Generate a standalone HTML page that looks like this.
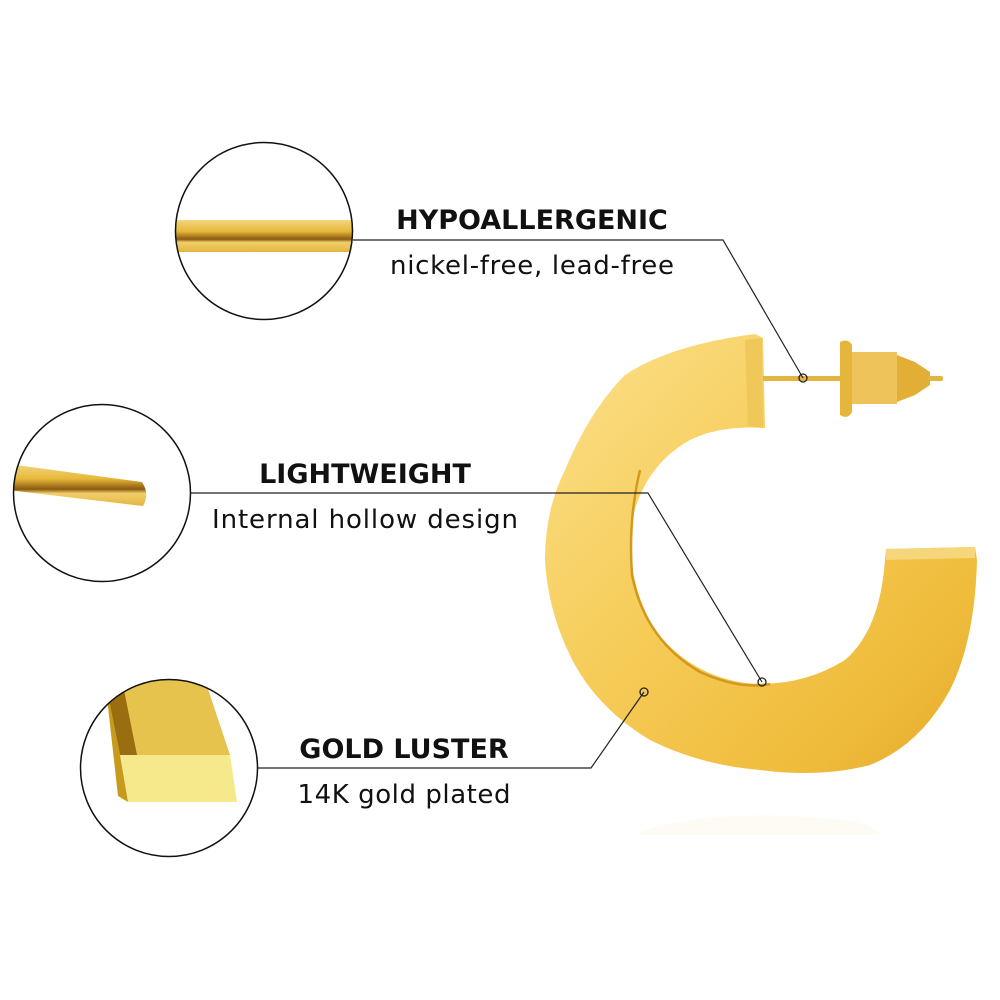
<!DOCTYPE html>
<html><head><meta charset="utf-8"><style>
html,body{margin:0;padding:0;background:#fff;}
svg{display:block}
text{font-family:"DejaVu Sans","Liberation Sans",sans-serif;fill:#111}
</style></head><body>
<svg width="1000" height="1000" viewBox="0 0 1000 1000" xmlns="http://www.w3.org/2000/svg">
<defs>
<linearGradient id="g1" x1="0" y1="0" x2="1" y2="1">
<stop offset="0" stop-color="#fbe08a"/><stop offset="0.45" stop-color="#f6cc58"/><stop offset="0.8" stop-color="#efbb3a"/><stop offset="1" stop-color="#e4a82a"/>
</linearGradient>
<linearGradient id="wire" x1="0" y1="0" x2="0" y2="1">
<stop offset="0" stop-color="#f3d580"/><stop offset="0.35" stop-color="#e7b93a"/><stop offset="0.6" stop-color="#8a5a10"/><stop offset="0.7" stop-color="#f1cf6a"/><stop offset="1" stop-color="#e4b540"/>
</linearGradient>
<clipPath id="c1"><circle cx="264" cy="231" r="88"/></clipPath>
<clipPath id="c2"><circle cx="102" cy="493" r="88"/></clipPath>
<clipPath id="c3"><circle cx="169" cy="768" r="88"/></clipPath>
</defs>

<g clip-path="url(#c1)"><rect x="170" y="220" width="184" height="32" fill="url(#wire)"/></g>
<circle cx="264" cy="231" r="88.5" fill="none" stroke="#111" stroke-width="1.5"/>

<g clip-path="url(#c2)"><path d="M8 464 L142 482 Q150 494 143 506 L8 490 Z" fill="url(#wire)"/></g>
<circle cx="102" cy="493" r="88.5" fill="none" stroke="#111" stroke-width="1.5"/>

<g clip-path="url(#c3)">
<polygon points="105,680 205,680 230,755 120,755" fill="#e6c34c"/>
<polygon points="105,680 122,680 137,755 120,755" fill="#9a6d10"/>
<polygon points="120,755 230,755 237,802 128,802" fill="#f6e98c"/>
<polygon points="105,680 120,755 128,802 118,796" fill="#c69a1a"/>
</g>
<circle cx="169" cy="768" r="88.5" fill="none" stroke="#111" stroke-width="1.5"/>

<path d="M755 334 L763 338 L765 428 Q720 425 690 440 Q645 465 632 520 Q625 580 655 630 Q690 675 745 683 Q800 688 845 660 Q880 630 885 560 L886 549 L975 547 L977 560 Q975 640 950 690 Q920 745 870 765 Q820 778 760 770 Q700 765 650 740 Q600 710 575 665 Q548 615 545 560 Q545 510 565 470 Q590 410 625 375 Q670 345 755 334 Z" fill="url(#g1)"/>
<path d="M640 470 Q628 520 632 575 Q645 640 700 672 Q740 690 770 684" fill="none" stroke="#d4981c" stroke-width="2.5"/>
<path d="M886 549 L975 547 L975 558 L886 560 Z" fill="#f6d67a"/>
<path d="M745 340 L762 338 L763 428 L748 426 Z" fill="#f0c85a"/>
<path d="M640 832 Q720 805 860 822 Q880 830 880 835 L640 835 Z" fill="#fdf8ee" opacity="0.6"/>

<rect x="763" y="376" width="80" height="5" fill="#e2b440"/>
<path d="M840 342 Q848 338 852 345 L852 412 Q848 420 840 415 Z" fill="#e6b53c"/>
<rect x="852" y="352" width="45" height="52" fill="#eec35a"/>
<path d="M897 355 L915 362 L930 372 L930 385 L915 395 L897 402 Z" fill="#e2ae36"/>
<rect x="928" y="376" width="15" height="5" rx="2" fill="#e2b440"/>

<g fill="none" stroke="#222" stroke-width="1.2">
<polyline points="353,240 723,240 803,378"/>
<polyline points="191,493 648,493 762,682"/>
<polyline points="258,768 591,768 644,692"/>
</g>
<g fill="none" stroke="#222" stroke-width="1.3">
<circle cx="803" cy="378" r="4"/>
<circle cx="762" cy="682" r="4"/>
<circle cx="644" cy="692" r="4"/>
</g>

<text x="532" y="229" font-size="27" font-weight="bold" text-anchor="middle">HYPOALLERGENIC</text>
<text x="532" y="274" font-size="26" text-anchor="middle" textLength="284">nickel-free, lead-free</text>
<text x="365" y="483" font-size="27" font-weight="bold" text-anchor="middle">LIGHTWEIGHT</text>
<text x="365" y="528" font-size="26" text-anchor="middle" textLength="306">Internal hollow design</text>
<text x="404" y="758" font-size="27" font-weight="bold" text-anchor="middle">GOLD LUSTER</text>
<text x="404" y="803" font-size="26" text-anchor="middle" textLength="213">14K gold plated</text>
</svg>
</body></html>
